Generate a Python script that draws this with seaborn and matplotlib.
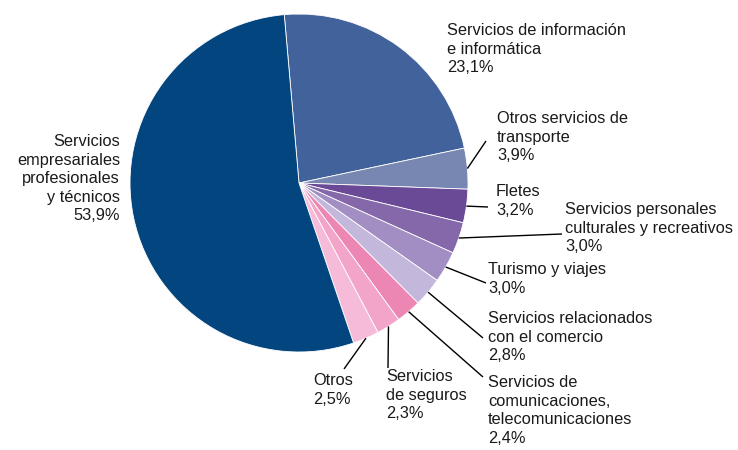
import numpy as np
import seaborn as sns
from matplotlib import pyplot as plt

# data
categories = ['Servicios de información\ne informática',
              'Otros servicios de\ntransporte',
              'Fletes',
              'Servicios personales\nculturales y recreativos',
              'Turismo y viajes',
              'Servicios relacionados\ncon el comercio',
              'Servicios de\ncomunicaciones,\ntelecomunicaciones',
              'Servicios\nde seguros',
              'Otros',
              'Servicios\nempresariales\nprofesionales\ny técnicos']
shares = [23.1, 3.9, 3.2, 3.0, 3.0, 2.8, 2.4, 2.3, 2.5, 53.9]
colors = ['#41629A', '#7787B1', '#6A4A96', '#8468AA', '#A38EC4',
          '#C3B7DB', '#EC87B4', '#F2A5C9', '#F6BBD9', '#03467F']

# label layout: text anchor (x, y top) in pixels, alignment, leader end point or None
label_pos = [(447, 23, 'left', None),
             (497, 111, 'left', (486, 141)),
             (496, 184, 'left', (488, 207)),
             (565, 202, 'left', (562, 234)),
             (488, 262, 'left', (486, 283)),
             (488, 311, 'left', (483, 338)),
             (488, 375, 'left', (483, 377)),
             (386, 369, 'left', (388, 368)),
             (313, 373, 'left', (344, 369)),
             (120, 134, 'right', None)]

sns.set_style('white')
plt.rcParams['font.family'] = ['Liberation Sans', 'DejaVu Sans']

W, H = 738, 450
fig = plt.figure(figsize=(W / 100, H / 100), dpi=100)
ax = fig.add_axes([0, 0, 1, 1])

cx, cy, r = 299, H - 183, 169
wedges, _ = ax.pie(shares, colors=colors, startangle=95, counterclock=False,
                   center=(cx, cy), radius=r, frame=True,
                   wedgeprops=dict(edgecolor='white', linewidth=0.6))
ax.set_xlim(0, W)
ax.set_ylim(0, H)
ax.set_aspect('equal')
ax.axis('off')

for w, cat, val, (tx, ty, ha, end) in zip(wedges, categories, shares, label_pos):
    txt = cat + '\n' + f'{val:.1f}'.replace('.', ',') + '%'
    ax.text(tx, H - ty, txt, ha=ha, va='top', fontsize=11.8,
            linespacing=1.3, color='#1a1a1a', multialignment=ha)
    if end is not None:
        ang = np.deg2rad((w.theta1 + w.theta2) / 2)
        sx, sy = cx + r * np.cos(ang), cy + r * np.sin(ang)
        ax.plot([sx, end[0]], [sy, H - end[1]], color='black', lw=1.0,
                solid_capstyle='butt')

fig.savefig('out.png', dpi=100)
